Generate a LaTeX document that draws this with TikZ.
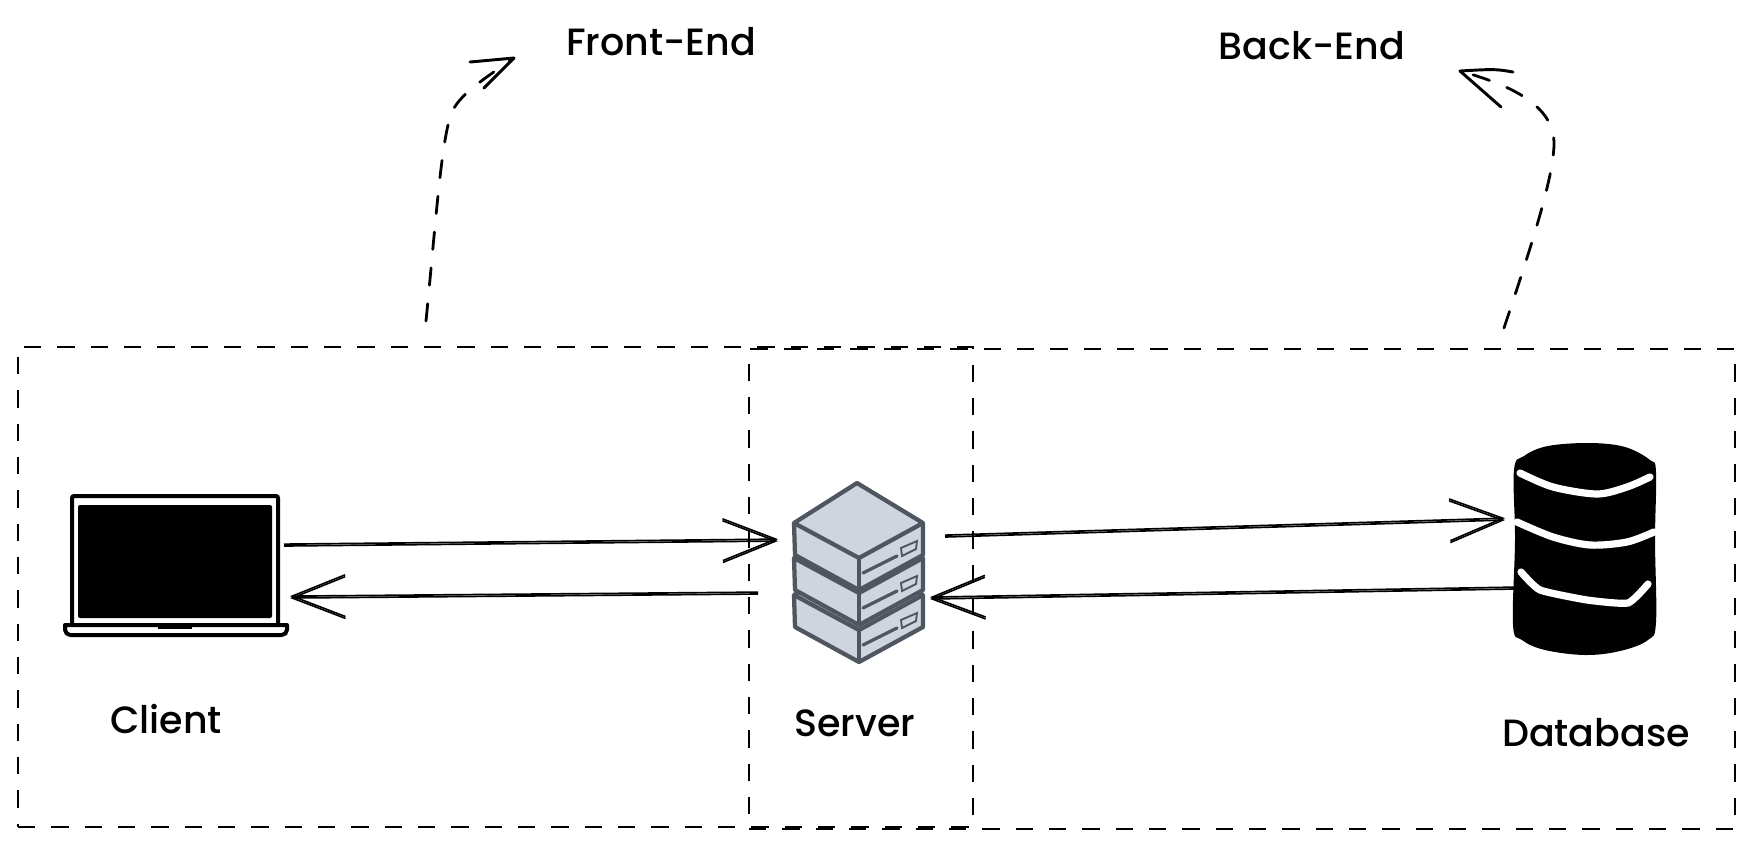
\documentclass[tikz,border=0pt]{standalone}
\usepackage{fontspec}
\setmainfont{Poppins}[BoldFont={Poppins Medium}]
\usetikzlibrary{arrows.meta,fit}
\definecolor{blk}{HTML}{000000}
\definecolor{rack}{HTML}{CFD4DD}
\definecolor{rackline}{HTML}{4F5660}
\tikzset{
  >={Straight Barb[length=14mm,width=11mm,line width=1.2pt]},
  zone/.style={draw=blk, line width=2.1pt, dash pattern=on 13pt off 12pt, inner sep=0pt, fit=#1},
  l/.style={->, line width=1.25pt, draw=blk, postaction={draw, ->, transform canvas={yshift=1.4pt}}},
  hint/.style={draw=blk, line width=2.1pt, line cap=round, dash pattern=on 13pt off 14pt},
  tipbar/.style={draw=blk, line width=2.2pt, line cap=round, line join=round},
  lab/.style={font=\fontsize{28.5}{34}\selectfont\bfseries, inner sep=0pt, text=blk},
  lap/.style={draw=blk, line width=3pt, rounded corners=1.5pt},
  band/.style={draw=white, line width=5.4pt, line cap=round},
  rackbox/.style={draw=rackline, fill=rack, line width=3.2pt, line join=round},
  rackbit/.style={draw=rackline, line width=2.4pt, line cap=round},
}
\begin{document}
\begin{tikzpicture}[x=0.75pt,y=-0.75pt]
  \useasboundingbox (0,0) rectangle (1753,847);
  % zones
  \coordinate (fronttl) at (18,347);
  \coordinate (frontbr) at (973,827);
  \coordinate (backtl) at (749,349);
  \coordinate (backbr) at (1735,829);
  \node[zone={(fronttl)(frontbr)}] (frontzone){};
  \node[zone={(backtl)(backbr)}] (backzone){};
  % laptop
  \draw[lap] (72,623) -- (72,496) -- (278,496) -- (278,623);
  \fill[blk, rounded corners=1.5pt] (78,505) rectangle (272,618);
  \draw[draw=blk, line width=3pt, line join=round] (65,625) -- (287,625) [rounded corners=4pt] -- (287,635) -- (65,635) [sharp corners] -- cycle;
  \fill[blk] (158,624) rectangle (192,629);
  % server
  \foreach \dy in {72,35,0}{
    \begin{scope}[yshift=-0.75*\dy]
      \draw[rackbox] (857,483) -- (923,523) -- (923,555) -- (859,590) -- (795,555) -- (794,523) -- cycle;
      \draw[rackbox] (794,523) -- (859,558) -- (923,523);
      \draw[rackbox] (859,558) -- (859,590);
      \draw[rackbit] (863,573) -- (897,556);
      \draw[draw=rackline, line width=1.4pt] (901,548) -- (917,541) -- (916,549) -- (902,556) -- cycle;
    \end{scope}
  }
  % database
  \fill[blk] plot[smooth cycle, tension=0.6] coordinates {(1514,470) (1524,456) (1548,446) (1590,443) (1625,447) (1650,460) (1656,472) (1655,540) (1656,622) (1648,640) (1620,651) (1585,655) (1545,650) (1522,640) (1513,625) (1515,540)};
  \draw[band] plot[smooth, tension=0.5] coordinates {(1520,473) (1553,487) (1597,494) (1627,487) (1650,477)};
  \draw[band] plot[smooth, tension=0.5] coordinates {(1517,522) (1553,537) (1590,545) (1627,542) (1654,532)};
  \draw[band] plot[smooth, tension=0.3] coordinates {(1521,572) (1540,590) (1587,600) (1628,603) (1648,584)};
  % labels
  \node[lab] (frontlabel) at (661,42){Front-End};
  \node[lab] (backlabel) at (1312,46){Back-End};
  \node[lab] (clientlabel) at (166,719){Client};
  \node[lab] (serverlabel) at (855,723){Server};
  \node[lab] (dblabel) at (1596,733){Database};
  % connectors
  \coordinate (clientout) at (284,546);
  \coordinate (serverin) at (778,541);
  \coordinate (serverback) at (758,594);
  \coordinate (clientin) at (290,598);
  \coordinate (serverout) at (945,537);
  \coordinate (dbin) at (1505,520);
  \coordinate (dbout) at (1514,589);
  \coordinate (serverret) at (930,599);
  \draw[l] (clientout) -- (serverin);
  \draw[l] (serverback) -- (clientin);
  \draw[l] (serverout) -- (dbin);
  \draw[l] (dbout) -- (serverret);
  % zone hints
  \coordinate (fronthint) at (426,321);
  \coordinate (fronttip) at (514,58);
  \coordinate (backhint) at (1504,328);
  \coordinate (backtip) at (1460,71);
  \draw[hint] (fronthint) .. controls (436,220) and (442,130) .. (453,110) .. controls (462,92) and (490,75) .. (fronttip);
  \draw[tipbar] (470,62) -- (fronttip) -- (484,88);
  \draw[hint] (backhint) .. controls (1530,250) and (1553,180) .. (1554,145) .. controls (1555,105) and (1510,85) .. (backtip);
  \draw[tipbar] (1513,72) .. controls (1495,69) .. (backtip) -- (1501,107);
\end{tikzpicture}
\end{document}
